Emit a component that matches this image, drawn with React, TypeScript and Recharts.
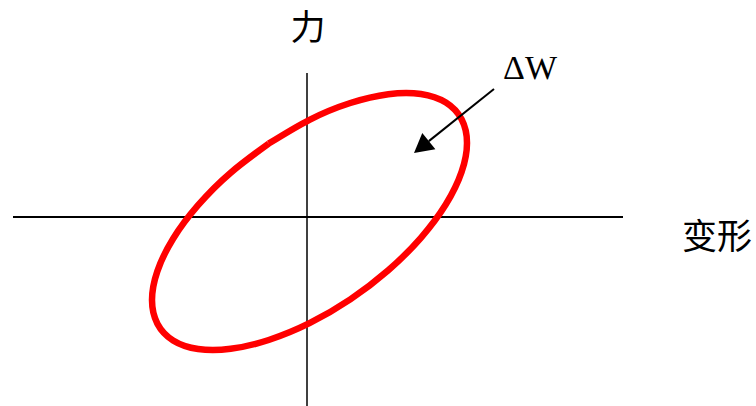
import { LineChart, Line, XAxis, YAxis, ReferenceLine, ReferenceDot } from 'recharts'

// hysteresis loop (deformation vs force, arbitrary units)
const loopDeformation = [
  -3.83, -7.63, -10.89, -13.39, -14.96, -15.5, -14.96, -13.39, -10.89, -7.63, -3.83, 0.25,
  4.33, 8.13, 11.39, 13.89, 15.46, 16.0, 15.46, 13.89, 11.39, 8.13, 4.33, 0.25, -3.83,
]
const loopForce = [
  7.34, 4.43, 1.18, -2.17, -5.41, -8.31, -10.67, -12.34, -13.2, -13.18, -12.3, -10.62,
  -8.24, -5.33, -2.08, 1.27, 4.51, 7.41, 9.77, 11.44, 12.3, 12.28, 11.4, 9.72, 7.34,
]

const xDomain = [-30.7, 44.9]
const yDomain = [-18.9, 21.7]

const data = loopDeformation.map((x, i) => ({ x, y: loopForce[i] }))

const cjkFont = '"Noto Sans CJK SC", "Noto Sans", sans-serif'
const serifFont = '"Liberation Serif", "Times New Roman", serif'

function ArrowShape(props: any) {
  const { x1, y1, x2, y2 } = props
  const dx = x2 - x1
  const dy = y2 - y1
  const len = Math.sqrt(dx * dx + dy * dy) || 1
  const ux = dx / len
  const uy = dy / len
  const head = 19
  const half = 10.5
  const bx = x2 - ux * head
  const by = y2 - uy * head
  const pts = `${x2},${y2} ${bx - uy * half},${by + ux * half} ${bx + uy * half},${by - ux * half}`
  return (
    <g>
      <line x1={x1} y1={y1} x2={bx} y2={by} stroke="#000" strokeWidth={2} />
      <polygon points={pts} fill="#000" />
    </g>
  )
}

export default function App() {
  return (
    <div style={{ position: 'absolute', left: 0, top: 0, background: '#fff' }}>
      <LineChart width={756} height={406} data={data} margin={{ top: 0, right: 0, bottom: 0, left: 0 }}>
        <XAxis dataKey="x" type="number" domain={xDomain} allowDataOverflow hide />
        <YAxis type="number" domain={yDomain} allowDataOverflow hide />
        <ReferenceLine
          segment={[{ x: -29.4, y: 0 }, { x: 31.6, y: 0 }]}
          stroke="#000"
          strokeWidth={2}
          ifOverflow="visible"
        />
        <ReferenceLine
          segment={[{ x: 0, y: 14.4 }, { x: 0, y: -18.9 }]}
          stroke="#000"
          strokeWidth={1.5}
          ifOverflow="visible"
        />
        <Line
          dataKey="y"
          type="natural"
          stroke="#ff0000"
          strokeWidth={6.5}
          dot={false}
          activeDot={false}
          isAnimationActive={false}
        />
        <ReferenceLine
          segment={[{ x: 18.7, y: 12.8 }, { x: 10.7, y: 6.4 }]}
          shape={ArrowShape}
          ifOverflow="visible"
        />
        <ReferenceDot
          x={0.1}
          y={18.9}
          r={0}
          ifOverflow="visible"
          label={{ value: '力', position: 'center', fontSize: 35, fill: '#000', fontFamily: cjkFont }}
        />
        <ReferenceDot
          x={41.0}
          y={-2.0}
          r={0}
          ifOverflow="visible"
          label={{ value: '变形', position: 'center', fontSize: 35, fill: '#000', fontFamily: cjkFont }}
        />
        <ReferenceDot
          x={22.3}
          y={15.0}
          r={0}
          ifOverflow="visible"
          label={{ value: 'ΔW', position: 'center', fontSize: 34, fill: '#000', fontFamily: serifFont }}
        />
      </LineChart>
    </div>
  )
}
